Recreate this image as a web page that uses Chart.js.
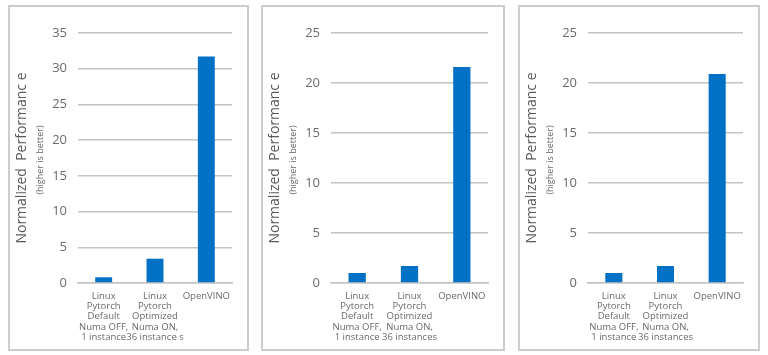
<!DOCTYPE html>
<html>
<head>
<meta charset="utf-8">
<script src="https://cdn.jsdelivr.net/npm/chart.js@4"></script>
<style>
  html, body { margin: 0; padding: 0; background: #ffffff; }
  body { width: 768px; height: 355px; position: relative; overflow: hidden; }
  .panel { position: absolute; box-sizing: border-box; border: 2px solid #cdcdcd; background: #fff; }
  .panel canvas { display: block; }
</style>
</head>
<body>
<div class="panel" id="p1" style="left:8px; top:5px; width:241px; height:346px;"><canvas id="c1"></canvas></div>
<div class="panel" id="p2" style="left:261px; top:5px; width:244px; height:346px;"><canvas id="c2"></canvas></div>
<div class="panel" id="p3" style="left:518px; top:5px; width:242px; height:346px;"><canvas id="c3"></canvas></div>
<script>
// ---- data ----
const categories1 = [
  ['Linux', 'Pytorch', 'Default', 'Numa OFF,', '1 instance'],
  ['Linux', 'Pytorch', 'Optimized', 'Numa ON,', '36 instance s'],
  'OpenVINO'
];
const categories2 = [
  ['Linux', 'Pytorch', 'Default', 'Numa OFF,', '1 instance'],
  ['Linux', 'Pytorch', 'Optimized', 'Numa ON,', '36 instances'],
  'OpenVINO'
];
const categories3 = categories2;
const values1 = [0.8, 3.4, 31.7];
const values2 = [1.0, 1.7, 21.6];
const values3 = [1.0, 1.7, 20.9];
const yMax = [35, 25, 25];
const yStep = 5;
const titleMain = 'Normalized  Performanc e';
const titleSub = '(higher is better)';

const FONT = "'Open Sans', 'DejaVu Sans', sans-serif";

const subtitlePlugin = {
  id: 'subtitle',
  afterDraw(chart) {
    const ctx = chart.ctx;
    const ca = chart.chartArea;
    ctx.save();
    ctx.translate(30, (ca.top + ca.bottom) / 2 + 2);
    ctx.rotate(-Math.PI / 2);
    ctx.fillStyle = '#6a6a6a';
    ctx.font = "9px " + FONT;
    ctx.textAlign = 'center';
    ctx.textBaseline = 'middle';
    ctx.fillText(titleSub, 0, 0);
    ctx.restore();
  }
};

function makeChart(id, panelId, labels, values, max) {
  const panel = document.getElementById(panelId);
  const w = panel.clientWidth, h = panel.clientHeight;
  const canvas = document.getElementById(id);
  canvas.width = w; canvas.height = h;
  canvas.style.width = w + 'px'; canvas.style.height = h + 'px';
  const chartLeft = 68, chartTop = 26, chartBottom = 276, rightPad = 15;
  new Chart(canvas, {
    type: 'bar',
    data: {
      labels: labels,
      datasets: [{
        data: values,
        backgroundColor: '#0071c5',
        borderWidth: 0,
        barPercentage: 0.66,
        categoryPercentage: 0.5
      }]
    },
    options: {
      responsive: false,
      animation: false,
      devicePixelRatio: 1,
      layout: { padding: { top: chartTop, right: rightPad, left: 0, bottom: 0 } },
      plugins: { legend: { display: false }, tooltip: { enabled: false } },
      scales: {
        x: {
          grid: { display: false, drawTicks: false },
          border: { display: true, color: '#c4c4c4', width: 1.5 },
          ticks: {
            color: '#6a6a6a',
            font: { family: FONT, size: 9.5, lineHeight: 1.08 },
            padding: 8,
            maxRotation: 0,
            autoSkip: false
          },
          afterFit(scale) { scale.height = h - chartBottom; }
        },
        y: {
          min: 0, max: max,
          grid: { color: '#c4c4c4', lineWidth: 1.5, drawTicks: false },
          border: { display: false },
          ticks: {
            stepSize: yStep,
            color: '#6a6a6a',
            font: { family: FONT, size: 13 },
            padding: 11
          },
          title: {
            display: true,
            text: titleMain,
            color: '#595959',
            font: { family: FONT, size: 14 },
            padding: { top: 4, bottom: 0 }
          },
          afterFit(scale) { scale.width = chartLeft; }
        }
      }
    },
    plugins: [subtitlePlugin]
  });
}

makeChart('c1', 'p1', categories1, values1, yMax[0]);
makeChart('c2', 'p2', categories2, values2, yMax[1]);
makeChart('c3', 'p3', categories3, values3, yMax[2]);
</script>
</body>
</html>
